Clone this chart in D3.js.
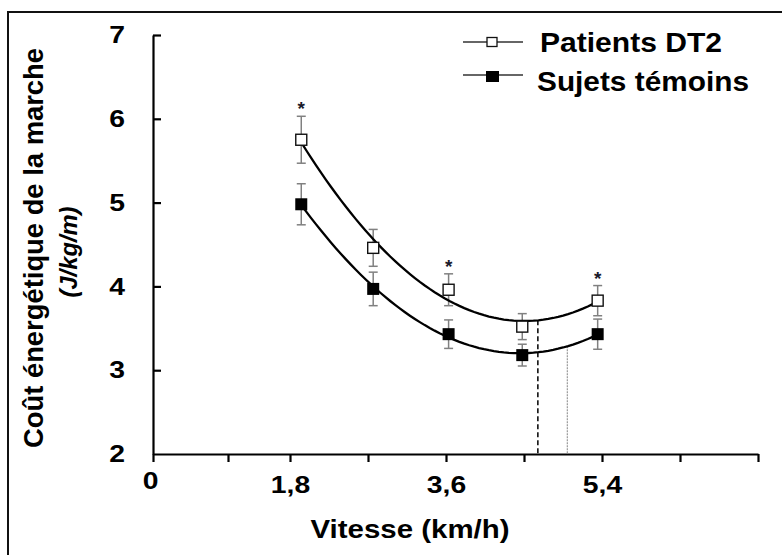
<!DOCTYPE html>
<html>
<head>
<meta charset="utf-8">
<script src="https://cdn.jsdelivr.net/npm/d3@7"></script>
<style>
  html, body { margin: 0; padding: 0; background: #fff; }
  svg { display: block; font-family: "Liberation Sans", Arial, sans-serif; }
</style>
</head>
<body>
<svg id="chart" width="782" height="555"></svg>
<script>
// ---- data ----
const speeds = [1.93, 2.76, 3.63, 4.48, 5.35];            // km/h
const patientsMean = [5.75, 4.46, 3.96, 3.52, 3.83];      // Patients DT2
const patientsErr  = [0.28, 0.22, 0.19, 0.155, 0.18];
const controlsMean = [4.98, 3.97, 3.43, 3.18, 3.43];      // Sujets témoins
const controlsErr  = [0.245, 0.2, 0.17, 0.13, 0.18];
const significant  = [true, false, true, false, true];
const optimalSpeedPatients = 4.66;
const optimalSpeedControls = 5.0;
const xTickValues = [0, 0.9, 1.8, 2.7, 3.6, 4.5, 5.4, 6.3, 7.2];
const xTickLabels = ["0", "", "1,8", "", "3,6", "", "5,4", "", ""];
const yTickValues = [2, 3, 4, 5, 6, 7];
const seriesNames = ["Patients DT2", "Sujets témoins"];
const xTitle = "Vitesse (km/h)";
const yTitle = "Coût énergétique de la marche";
const yUnit = "(J/kg/m)";

// ---- setup ----
const svg = d3.select("#chart");
const x = d3.scaleLinear().domain([0, 0.9, 1.8, 7.2]).range([153, 228, 290, 758]);
const y = d3.scaleLinear().domain([2, 7]).range([454, 35]);

// frame (left and top edges visible)
svg.append("path").attr("d", "M8,555 L8,12 L782,12")
  .attr("fill", "none").attr("stroke", "#111").attr("stroke-width", 2);

// quadratic least-squares fit
function quadFit(xs, ys) {
  let S = [[0,0,0],[0,0,0],[0,0,0]], T = [0,0,0];
  xs.forEach((xv, i) => {
    const p = [1, xv, xv*xv];
    for (let r = 0; r < 3; r++) { T[r] += p[r]*ys[i]; for (let c = 0; c < 3; c++) S[r][c] += p[r]*p[c]; }
  });
  const M = S.map((row, i) => row.concat([T[i]]));
  for (let i = 0; i < 3; i++) {
    for (let k = i+1; k < 3; k++) {
      const f = M[k][i] / M[i][i];
      for (let j = i; j < 4; j++) M[k][j] -= f*M[i][j];
    }
  }
  const sol = [0,0,0];
  for (let i = 2; i >= 0; i--) {
    let s = M[i][3];
    for (let j = i+1; j < 3; j++) s -= M[i][j]*sol[j];
    sol[i] = s / M[i][i];
  }
  return v => sol[0] + sol[1]*v + sol[2]*v*v;
}
const fitP = quadFit(speeds, patientsMean);
const fitC = quadFit(speeds, controlsMean);

function stretch(sel, k) {
  sel.each(function() {
    const w = this.getComputedTextLength();
    if (w > 0) d3.select(this).attr("textLength", w * k).attr("lengthAdjust", "spacingAndGlyphs");
  });
}

// ---- axes ----
const yAxis = d3.axisLeft(y).tickValues(yTickValues).tickFormat(d3.format("d"))
  .tickSizeInner(-8).tickSizeOuter(0).tickPadding(28);
const gy = svg.append("g").attr("transform", `translate(${x(0)},0)`).call(yAxis);
gy.select(".domain").attr("stroke", "#000").attr("stroke-width", 2.2);
gy.selectAll(".tick line").attr("stroke", "#000").attr("stroke-width", 2.2)
  .filter(d => d === 2).remove();
gy.selectAll(".tick text").attr("font-size", 24).attr("font-weight", "bold").attr("fill", "#000")
  .attr("font-family", "Liberation Sans, Arial, sans-serif");
stretch(gy.selectAll(".tick text"), 1.18);

const xAxis = d3.axisBottom(x).tickValues(xTickValues)
  .tickFormat((d, i) => xTickLabels[i]).tickSizeInner(8).tickSizeOuter(0).tickPadding(14);
const gx = svg.append("g").attr("transform", `translate(0,${y(2)})`).call(xAxis);
gx.select(".domain").attr("stroke", "#000").attr("stroke-width", 2.2);
gx.selectAll(".tick line").attr("stroke", "#000").attr("stroke-width", 2.2);
gx.selectAll(".tick text").attr("font-size", 24).attr("font-weight", "bold").attr("fill", "#000")
  .attr("font-family", "Liberation Sans, Arial, sans-serif");
gx.selectAll(".tick text").filter(d => d === 0).attr("dx", -3).attr("y", 18);
stretch(gx.selectAll(".tick text"), 1.18);

// axis titles
svg.append("text").attr("x", 410).attr("y", 538).attr("text-anchor", "middle")
  .attr("font-size", 25).attr("font-weight", "bold").attr("textLength", 199)
  .attr("lengthAdjust", "spacingAndGlyphs").text(xTitle);
svg.append("text").attr("transform", "translate(43,248) rotate(-90)").attr("text-anchor", "middle")
  .attr("font-size", 28).attr("font-weight", "bold").attr("textLength", 400)
  .attr("lengthAdjust", "spacingAndGlyphs").text(yTitle);
svg.append("text").attr("transform", "translate(77,252) rotate(-90)").attr("text-anchor", "middle")
  .attr("font-size", 23).attr("font-weight", "bold").attr("font-style", "italic")
  .attr("textLength", 91).attr("lengthAdjust", "spacingAndGlyphs").text(yUnit);

// ---- optimal speed markers ----
svg.append("line").attr("x1", x(optimalSpeedPatients)).attr("x2", x(optimalSpeedPatients))
  .attr("y1", y(fitP(optimalSpeedPatients))).attr("y2", y(2))
  .attr("stroke", "#000").attr("stroke-width", 1.5).attr("stroke-dasharray", "5,3");
svg.append("line").attr("x1", x(optimalSpeedControls)).attr("x2", x(optimalSpeedControls))
  .attr("y1", y(fitC(optimalSpeedControls))).attr("y2", y(2))
  .attr("stroke", "#999").attr("stroke-width", 1.2).attr("stroke-dasharray", "2,1");

// ---- error bars ----
function errorBars(means, errs) {
  const g = svg.append("g").attr("stroke", "#808080").attr("stroke-width", 1.5);
  speeds.forEach((s, i) => {
    const lo = y(means[i] - errs[i]), hi = y(means[i] + errs[i]), cx = x(s);
    g.append("line").attr("x1", cx).attr("x2", cx).attr("y1", lo).attr("y2", hi);
    g.append("line").attr("x1", cx - 4.5).attr("x2", cx + 4.5).attr("y1", lo).attr("y2", lo);
    g.append("line").attr("x1", cx - 4.5).attr("x2", cx + 4.5).attr("y1", hi).attr("y2", hi);
  });
}
errorBars(controlsMean, controlsErr);
errorBars(patientsMean, patientsErr);

// ---- fitted curves ----
const line = d3.line().x(d => x(d[0])).y(d => y(d[1]));
const xs = d3.range(0, 61).map(k => speeds[0] + (speeds[speeds.length-1] - speeds[0]) * k / 60);
svg.append("path").attr("d", line(xs.map(v => [v, fitP(v)])))
  .attr("fill", "none").attr("stroke", "#000").attr("stroke-width", 2.3);
svg.append("path").attr("d", line(xs.map(v => [v, fitC(v)])))
  .attr("fill", "none").attr("stroke", "#000").attr("stroke-width", 2.3);

// ---- markers ----
speeds.forEach((s, i) => {
  svg.append("rect").attr("x", x(s) - 6).attr("y", y(controlsMean[i]) - 6)
    .attr("width", 12).attr("height", 12).attr("fill", "#000");
  svg.append("rect").attr("x", x(s) - 5.5).attr("y", y(patientsMean[i]) - 5.5)
    .attr("width", 11).attr("height", 11).attr("fill", "#fff").attr("stroke", "#111").attr("stroke-width", 1.4);
});

// ---- significance asterisks ----
speeds.forEach((s, i) => {
  if (!significant[i]) return;
  svg.append("text").attr("x", x(s)).attr("y", y(patientsMean[i] + patientsErr[i]) - 1)
    .attr("text-anchor", "middle").attr("font-size", 19).attr("font-weight", "bold")
    .attr("fill", "#1a1a2a").text("*");
});

// ---- legend ----
const legend = svg.append("g");
[42, 75].forEach((ly, i) => {
  legend.append("line").attr("x1", 463).attr("x2", 523).attr("y1", ly).attr("y2", ly)
    .attr("stroke", "#333").attr("stroke-width", 1.6);
});
legend.append("rect").attr("x", 487).attr("y", 37.5).attr("width", 10).attr("height", 9)
  .attr("fill", "#fff").attr("stroke", "#111").attr("stroke-width", 1.3);
legend.append("rect").attr("x", 486).attr("y", 71).attr("width", 13).attr("height", 11).attr("fill", "#000");
legend.append("text").attr("x", 540).attr("y", 52).attr("font-size", 28).attr("font-weight", "bold")
  .attr("textLength", 182).attr("lengthAdjust", "spacingAndGlyphs").text(seriesNames[0]);
legend.append("text").attr("x", 537).attr("y", 91).attr("font-size", 28).attr("font-weight", "bold")
  .attr("textLength", 212).attr("lengthAdjust", "spacingAndGlyphs").text(seriesNames[1]);
</script>
</body>
</html>
